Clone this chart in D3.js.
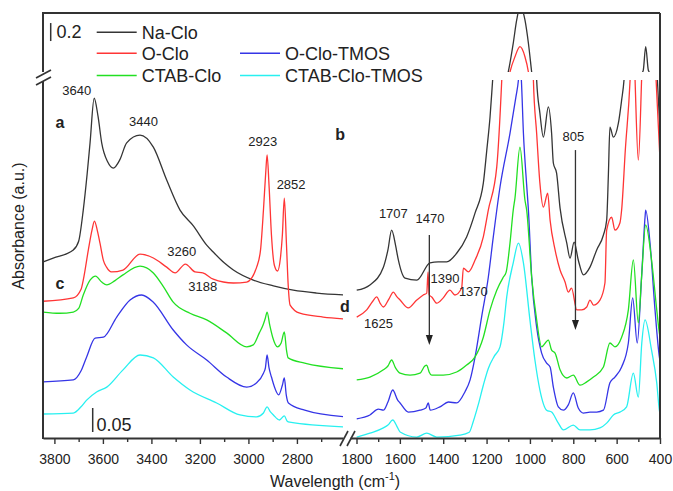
<!DOCTYPE html>
<html>
<head>
<meta charset="utf-8">
<script src="https://cdn.jsdelivr.net/npm/d3@7"></script>
<style>
  body { margin: 0; background: #fff; }
  text { font-family: "Liberation Sans", Arial, sans-serif; fill: #222; }
</style>
</head>
<body>
<div id="chart"></div>
<script>
// FTIR spectra, stacked with offsets; [wavenumber, absorbance]
// values between 0.746 and 1.2 fall in the y-axis break
const naCloLeft = [[3846,0.367],[3805,0.375],[3722,0.392],[3700,0.41],[3681,0.475],[3665,0.55],[3653,0.615],[3636,0.708],[3620,0.67],[3605,0.615],[3580,0.575],[3557,0.5625],[3530,0.58],[3502,0.615],[3447,0.631],[3392,0.606],[3337,0.5375],[3282,0.475],[3227,0.442],[3172,0.402],[3145,0.3875],[3100,0.365],[3062,0.35],[2980,0.329],[2897,0.317],[2815,0.308],[2718,0.302],[2602,0.298]];
const oCloLeft = [[3846,0.285],[3722,0.292],[3690,0.31],[3681,0.329],[3660,0.392],[3645,0.433],[3635,0.452],[3622,0.43],[3612,0.406],[3598,0.37],[3585,0.356],[3565,0.346],[3517,0.35],[3447,0.383],[3392,0.375],[3337,0.356],[3302,0.344],[3260,0.3625],[3220,0.346],[3188,0.344],[3145,0.331],[3062,0.323],[3007,0.325],[2966,0.356],[2950,0.392],[2938,0.475],[2928,0.558],[2923,0.59],[2915,0.527],[2905,0.423],[2893,0.36],[2880,0.348],[2868,0.375],[2860,0.423],[2852,0.5],[2843,0.402],[2836,0.319],[2828,0.277],[2788,0.26],[2692,0.252],[2602,0.248]];
const oCloTmosLeft = [[3846,0.117],[3722,0.121],[3690,0.14],[3667,0.169],[3632,0.208],[3598,0.21],[3543,0.252],[3488,0.2875],[3440,0.298],[3392,0.283],[3310,0.225],[3255,0.194],[3172,0.1625],[3090,0.127],[3007,0.106],[2966,0.115],[2938,0.135],[2930,0.146],[2923,0.173],[2915,0.146],[2905,0.127],[2875,0.09],[2860,0.11],[2852,0.125],[2844,0.09],[2835,0.073],[2768,0.058],[2602,0.044]];
const ctabCloLeft = [[3846,0.2625],[3778,0.26],[3722,0.2625],[3700,0.27],[3681,0.298],[3653,0.329],[3630,0.3375],[3605,0.325],[3584,0.319],[3550,0.328],[3517,0.34],[3447,0.358],[3392,0.344],[3350,0.315],[3310,0.283],[3241,0.26],[3172,0.246],[3090,0.219],[3007,0.19],[2980,0.194],[2955,0.219],[2940,0.235],[2930,0.25],[2923,0.2625],[2912,0.235],[2900,0.21],[2880,0.19],[2865,0.198],[2852,0.221],[2843,0.183],[2836,0.167],[2768,0.156],[2602,0.144]];
const ctabCloTmosLeft = [[3846,0.05],[3722,0.052],[3690,0.065],[3667,0.079],[3626,0.096],[3584,0.106],[3517,0.142],[3447,0.173],[3392,0.167],[3310,0.127],[3241,0.1],[3131,0.073],[3035,0.048],[2966,0.044],[2938,0.052],[2923,0.065],[2910,0.055],[2897,0.048],[2872,0.0375],[2852,0.046],[2840,0.035],[2830,0.033],[2602,0.023]];

const naCloRight = [[1799,0.308],[1738,0.319],[1676,0.356],[1655,0.392],[1638,0.433],[1620,0.402],[1607,0.371],[1576,0.333],[1522,0.329],[1461,0.365],[1423,0.367],[1384,0.367],[1338,0.385],[1292,0.419],[1253,0.469],[1215,0.531],[1199,0.6],[1184,0.669],[1172,0.746],[1140,0.95],[1100,1.2],[1077,1.519],[1061,1.778],[1045,1.93],[1023,1.778],[1007,1.519],[992,1.2],[980,0.95],[969,0.746],[954,0.677],[938,0.627],[915,0.69],[900,0.635],[892,0.573],[877,0.552],[861,0.479],[830,0.406],[815,0.375],[796,0.408],[777,0.371],[753,0.34],[723,0.356],[692,0.392],[661,0.423],[646,0.454],[638,0.55],[631,0.648],[615,0.627],[592,0.656],[577,0.704],[566,0.746],[545,0.95],[525,1.15],[505,1.05],[488,1.15],[480,1.2],[477,1.222],[466,1.481],[454,1.222],[450,1.2],[430,0.95],[412,0.746],[400,0.64]];
const oCloRight = [[1799,0.252],[1753,0.267],[1725,0.285],[1707,0.294],[1690,0.28],[1676,0.273],[1650,0.29],[1630,0.304],[1615,0.295],[1599,0.2875],[1561,0.271],[1522,0.2875],[1492,0.298],[1476,0.302],[1470,0.346],[1465,0.298],[1453,0.294],[1430,0.281],[1400,0.292],[1369,0.308],[1346,0.298],[1315,0.3125],[1307,0.354],[1284,0.346],[1253,0.371],[1215,0.419],[1192,0.475],[1153,0.565],[1130,0.746],[1110,0.98],[1092,1.2],[1069,1.37],[1046,1.481],[1023,1.37],[1007,1.2],[995,0.98],[984,0.746],[969,0.635],[954,0.531],[938,0.481],[918,0.51],[907,0.454],[884,0.392],[861,0.35],[838,0.325],[823,0.304],[808,0.3125],[784,0.267],[761,0.267],[738,0.273],[723,0.2875],[707,0.277],[677,0.2875],[654,0.323],[646,0.433],[623,0.46],[608,0.433],[585,0.448],[577,0.475],[560,0.6],[538,0.746],[525,0.9],[515,0.746],[500,0.579],[485,0.746],[465,1.1],[418,0.746],[400,0.58]];
const oCloTmosRight = [[1799,0.04],[1738,0.048],[1699,0.06],[1676,0.058],[1655,0.075],[1633,0.1],[1610,0.079],[1599,0.073],[1561,0.054],[1507,0.058],[1480,0.0625],[1469,0.073],[1460,0.058],[1415,0.065],[1376,0.075],[1338,0.073],[1300,0.096],[1276,0.121],[1253,0.169],[1223,0.252],[1192,0.335],[1169,0.419],[1138,0.523],[1092,0.635],[1065,0.71],[1053,0.746],[1047,0.78],[1040,0.75],[1030,0.635],[1015,0.527],[1007,0.475],[992,0.336],[969,0.231],[946,0.177],[923,0.156],[907,0.148],[892,0.106],[869,0.065],[846,0.058],[823,0.069],[800,0.094],[777,0.0625],[753,0.052],[723,0.054],[692,0.054],[661,0.058],[631,0.115],[608,0.127],[577,0.148],[546,0.198],[526,0.292],[505,0.198],[485,0.335],[469,0.46],[466,0.475],[446,0.406],[423,0.267],[403,0.169],[400,0.16]];
const ctabCloRight = [[1799,0.121],[1738,0.127],[1676,0.142],[1655,0.15],[1638,0.1625],[1620,0.146],[1599,0.135],[1553,0.131],[1507,0.135],[1485,0.15],[1476,0.152],[1470,0.145],[1465,0.1375],[1453,0.131],[1400,0.131],[1338,0.1375],[1292,0.152],[1253,0.169],[1215,0.21],[1184,0.267],[1153,0.308],[1123,0.335],[1110,0.345],[1092,0.406],[1077,0.475],[1069,0.5],[1046,0.606],[1023,0.496],[1015,0.475],[992,0.335],[969,0.246],[946,0.19],[915,0.204],[900,0.183],[884,0.177],[861,0.142],[830,0.125],[800,0.131],[769,0.11],[738,0.117],[707,0.127],[661,0.148],[631,0.198],[608,0.19],[577,0.21],[546,0.267],[523,0.371],[500,0.24],[485,0.335],[466,0.444],[439,0.371],[415,0.267],[403,0.219],[400,0.21]];
const ctabCloTmosRight = [[1799,0.002],[1738,0.01],[1676,0.021],[1655,0.027],[1633,0.0375],[1610,0.021],[1599,0.0125],[1522,0.002],[1476,0.01],[1430,0.002],[1323,0.006],[1280,0.012],[1261,0.035],[1238,0.07],[1215,0.11],[1192,0.145],[1165,0.17],[1138,0.19],[1120,0.24],[1107,0.294],[1077,0.365],[1053,0.406],[1030,0.365],[1000,0.246],[977,0.1625],[954,0.1],[923,0.058],[900,0.054],[869,0.031],[846,0.017],[800,0.027],[769,0.017],[723,0.017],[677,0.021],[646,0.031],[615,0.048],[585,0.054],[554,0.065],[523,0.135],[500,0.085],[484,0.198],[469,0.246],[439,0.183],[415,0.115],[403,0.058],[400,0.05]];

const seriesNames = ['Na-Clo', 'O-Clo', 'O-Clo-TMOS', 'CTAB-Clo', 'CTAB-Clo-TMOS'];
const seriesColors = ['#353535', '#ff3535', '#3535e6', '#22e022', '#28f0f0'];

const leftMajor = [3800, 3600, 3400, 3200, 3000, 2800];
const leftMinor = [3700, 3500, 3300, 3100, 2900, 2700];
const rightMajor = [1800, 1600, 1400, 1200, 1000, 800, 600, 400];
const rightMinor = [1700, 1500, 1300, 1100, 900, 700, 500];

// [text, panel, wavenumber, absorbance]
const peakLabels = [['3640','L',3708,0.715],['3440','L',3433,0.65],['2923','L',2941,0.608],['2852','L',2824,0.518],
  ['3260','L',3275,0.379],['3188','L',3188,0.306],['1707','R',1630,0.458],['1470','R',1461,0.448],
  ['1390','R',1392,0.323],['1370','R',1261,0.296],['1625','R',1699,0.229],['805','R',800,0.619]];
const letterLabels = [['a','L',3777,0.646],['c','L',3777,0.31],['b','R',1876,0.62],['d','R',1853,0.2625]];
const arrows = [[1464,0.423,0.194],[790,0.6,0.225]]; // [wavenumber, from, to]

const width = 673, height = 491;
const F = {left: 43, right: 660, top: 13, bottom: 438};

const xL = d3.scaleLinear().domain([3847, 2610]).range([43, 343]);
const xR = d3.scaleLinear().domain([1830, 400]).range([350, 660]);
const yLow = d3.scaleLinear().domain([0, 0.746]).range([438, 80]);
const yHigh = d3.scaleLinear().domain([1.2, 1.2 + 59 / 90]).range([72, 13]);

const svg = d3.select('#chart').append('svg').attr('width', width).attr('height', height);
const defs = svg.append('defs');

const lefts = [naCloLeft, oCloLeft, oCloTmosLeft, ctabCloLeft, ctabCloTmosLeft];
const rights = [naCloRight, oCloRight, oCloTmosRight, ctabCloRight, ctabCloTmosRight];

const panels = [{x: xL, x0: 43, x1: 343, data: lefts, id: 'L'}, {x: xR, x0: 350, x1: 660, data: rights, id: 'R'}];
const bands = [{y: yLow, y0: 80, y1: 438, id: 'lo'}, {y: yHigh, y0: 13, y1: 72, id: 'hi'}];

panels.forEach(p => {
  bands.forEach(b => {
    const cid = 'clip' + p.id + b.id;
    defs.append('clipPath').attr('id', cid).append('rect')
      .attr('x', p.x0).attr('y', b.y0).attr('width', p.x1 - p.x0).attr('height', b.y1 - b.y0);
    const line = d3.line().x(d => p.x(d[0])).y(d => b.y(d[1])).curve(d3.curveMonotoneX);
    const g = svg.append('g').attr('clip-path', `url(#${cid})`);
    p.data.forEach((s, i) => {
      g.append('path').attr('d', line(s)).attr('fill', 'none')
        .attr('stroke', seriesColors[i]).attr('stroke-width', 1.3);
    });
  });
});

// frame
const frameColor = '#333';
svg.append('line').attr('x1', F.left).attr('x2', F.right).attr('y1', F.top).attr('y2', F.top)
  .attr('stroke', frameColor).attr('stroke-width', 2);
svg.append('line').attr('x1', F.right).attr('x2', F.right).attr('y1', F.top).attr('y2', F.bottom)
  .attr('stroke', frameColor).attr('stroke-width', 2);
svg.append('line').attr('x1', F.left).attr('x2', F.left).attr('y1', F.top - 1).attr('y2', 72)
  .attr('stroke', frameColor).attr('stroke-width', 2);
svg.append('line').attr('x1', F.left).attr('x2', F.left).attr('y1', 81).attr('y2', F.bottom + 1)
  .attr('stroke', frameColor).attr('stroke-width', 2);
[[36, 78, 51, 70], [36, 85, 51, 77], [340, 446, 348, 431], [347, 446, 355, 431]].forEach(c => {
  svg.append('line').attr('x1', c[0]).attr('y1', c[1]).attr('x2', c[2]).attr('y2', c[3])
    .attr('stroke', frameColor).attr('stroke-width', 1.6);
});

// x axes
function drawAxis(x, major, minor) {
  const g = svg.append('g').attr('transform', `translate(0,${F.bottom})`);
  g.call(d3.axisBottom(x).tickValues(major).tickFormat(d3.format('d'))
    .tickSize(6).tickSizeOuter(0).tickPadding(10));
  const m = svg.append('g').attr('transform', `translate(0,${F.bottom})`)
    .call(d3.axisBottom(x).tickValues(minor).tickSize(4).tickFormat(''));
  m.select('.domain').remove();
  [g, m].forEach(a => {
    a.selectAll('.domain').attr('stroke', frameColor).attr('stroke-width', 2);
    a.selectAll('.tick line').attr('stroke', frameColor).attr('stroke-width', 1.4);
    a.selectAll('.tick text').attr('font-size', 14).attr('fill', '#222')
      .attr('font-family', '"Liberation Sans", Arial, sans-serif');
  });
}
drawAxis(xL, leftMajor, leftMinor);
drawAxis(xR, rightMajor, rightMinor);

// axis titles
const xt = svg.append('text').attr('x', 270).attr('y', 487).attr('font-size', 16);
xt.append('tspan').text('Wavelength  (cm');
xt.append('tspan').attr('font-size', 11).attr('dy', -7).text('-1');
xt.append('tspan').attr('dy', 7).text(')');
svg.append('text').attr('transform', 'translate(24,226) rotate(-90)').attr('text-anchor', 'middle')
  .attr('font-size', 16).text('Absorbance (a.u.)');

// annotations
const px = (panel, w) => (panel === 'L' ? xL(w) : xR(w));
peakLabels.forEach(l => {
  svg.append('text').attr('x', px(l[1], l[2])).attr('y', yLow(l[3])).attr('text-anchor', 'middle')
    .attr('font-size', 13).text(l[0]);
});
letterLabels.forEach(l => {
  svg.append('text').attr('x', px(l[1], l[2])).attr('y', yLow(l[3])).attr('text-anchor', 'middle')
    .attr('font-size', 16).attr('font-weight', 'bold').text(l[0]);
});
arrows.forEach(a => {
  const x = xR(a[0]), y0 = yLow(a[1]), y1 = yLow(a[2]);
  svg.append('line').attr('x1', x).attr('x2', x).attr('y1', y0).attr('y2', y1 - 8)
    .attr('stroke', '#333').attr('stroke-width', 1.3);
  svg.append('path').attr('d', `M${x - 3.5},${y1 - 10}L${x + 3.5},${y1 - 10}L${x},${y1}Z`).attr('fill', '#222');
});

// scale bars
svg.append('line').attr('x1', 50.7).attr('x2', 50.7).attr('y1', yHigh(1.744)).attr('y2', yHigh(1.544))
  .attr('stroke', '#333').attr('stroke-width', 1.5);
svg.append('text').attr('x', 56.5).attr('y', 38).attr('font-size', 18).text('0.2');
svg.append('line').attr('x1', 92.7).attr('x2', 92.7).attr('y1', yLow(0.0625)).attr('y2', yLow(0.0125))
  .attr('stroke', '#333').attr('stroke-width', 1.5);
svg.append('text').attr('x', 96.5).attr('y', 430.5).attr('font-size', 18).text('0.05');

// legend
const legendPos = [[96.7, 32.3], [96.7, 53.3], [240, 53.3], [96.7, 75.5], [240, 75.5]];
seriesNames.forEach((n, i) => {
  const [lx, ly] = legendPos[i];
  svg.append('line').attr('x1', lx).attr('x2', lx + 40).attr('y1', ly).attr('y2', ly)
    .attr('stroke', seriesColors[i]).attr('stroke-width', 1.5);
  svg.append('text').attr('x', lx + 45).attr('y', ly + 6.3).attr('font-size', 18).text(n);
});
</script>
</body>
</html>
